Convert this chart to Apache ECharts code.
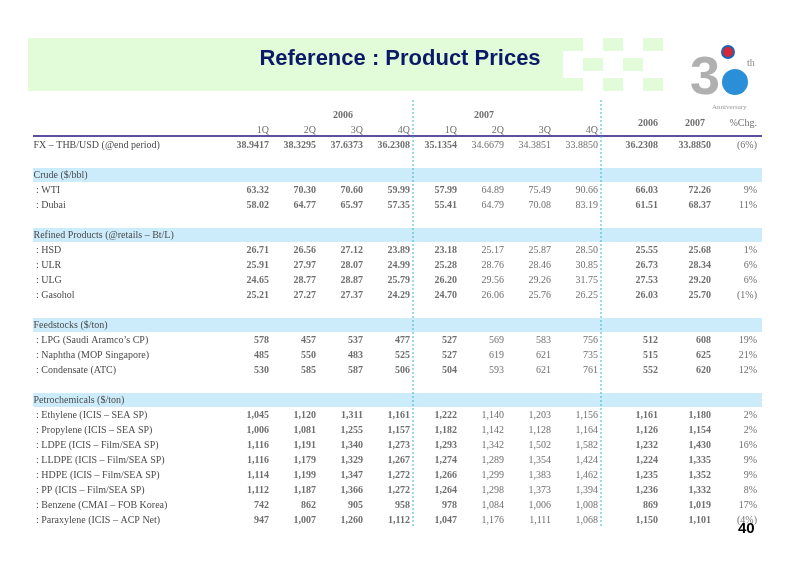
<!DOCTYPE html>
<html><head><meta charset="utf-8">
<script src="https://cdn.jsdelivr.net/npm/echarts@6/dist/echarts.min.js"></script>
<style>html,body{margin:0;padding:0;background:#fff}#c{width:800px;height:566px}</style>
</head><body><div id="c"></div>
<script>
// ---- data ----
const rowNames = ['hdrYear','hdrQ','FX – THB/USD (@end period)','',
 'Crude ($/bbl)',' : WTI',' : Dubai','',
 'Refined Products (@retails – Bt/L)',' : HSD',' : ULR',' : ULG',' : Gasohol','',
 'Feedstocks ($/ton)',' : LPG (Saudi Aramco\u2019s CP)',' : Naphtha (MOP Singapore)',' : Condensate (ATC)','',
 'Petrochemicals ($/ton)',' : Ethylene (ICIS – SEA SP)',' : Propylene (ICIS – SEA SP)',' : LDPE (ICIS – Film/SEA SP)',
 ' : LLDPE (ICIS – Film/SEA SP)',' : HDPE (ICIS – Film/SEA SP)',' : PP (ICIS – Film/SEA SP)',' : Benzene (CMAI – FOB Korea)',' : Paraxylene (ICIS – ACP Net)'];
const sectionRows = ['Crude ($/bbl)','Refined Products (@retails – Bt/L)','Feedstocks ($/ton)','Petrochemicals ($/ton)'];
const columns = ['1Q06','2Q06','3Q06','4Q06','1Q07','2Q07','3Q07','4Q07','Y2006','Y2007','Chg'];
const quarterLabels = ['1Q','2Q','3Q','4Q','1Q','2Q','3Q','4Q'];
const yearLabels = ['2006','2007'];
const fx        = [38.9417,38.3295,37.6373,36.2308,35.1354,34.6679,34.3851,33.8850,36.2308,33.8850,-6];
const wti       = [63.32,70.30,70.60,59.99,57.99,64.89,75.49,90.66,66.03,72.26,9];
const dubai     = [58.02,64.77,65.97,57.35,55.41,64.79,70.08,83.19,61.51,68.37,11];
const hsd       = [26.71,26.56,27.12,23.89,23.18,25.17,25.87,28.50,25.55,25.68,1];
const ulr       = [25.91,27.97,28.07,24.99,25.28,28.76,28.46,30.85,26.73,28.34,6];
const ulg       = [24.65,28.77,28.87,25.79,26.20,29.56,29.26,31.75,27.53,29.20,6];
const gasohol   = [25.21,27.27,27.37,24.29,24.70,26.06,25.76,26.25,26.03,25.70,-1];
const lpg       = [578,457,537,477,527,569,583,756,512,608,19];
const naphtha   = [485,550,483,525,527,619,621,735,515,625,21];
const condensate= [530,585,587,506,504,593,621,761,552,620,12];
const ethylene  = [1045,1120,1311,1161,1222,1140,1203,1156,1161,1180,2];
const propylene = [1006,1081,1255,1157,1182,1142,1128,1164,1126,1154,2];
const ldpe      = [1116,1191,1340,1273,1293,1342,1502,1582,1232,1430,16];
const lldpe     = [1116,1179,1329,1267,1274,1289,1354,1424,1224,1335,9];
const hdpe      = [1114,1199,1347,1272,1266,1299,1383,1462,1235,1352,9];
const pp        = [1112,1187,1366,1272,1264,1298,1373,1394,1236,1332,8];
const benzene   = [742,862,905,958,978,1084,1006,1008,869,1019,17];
const paraxylene= [947,1007,1260,1112,1047,1176,1111,1068,1150,1101,-4];

const tableRows = [
 [2,4,fx],[5,2,wti],[6,2,dubai],[9,2,hsd],[10,2,ulr],[11,2,ulg],[12,2,gasohol],
 [15,0,lpg],[16,0,naphtha],[17,0,condensate],
 [20,0,ethylene],[21,0,propylene],[22,0,ldpe],[23,0,lldpe],[24,0,hdpe],[25,0,pp],[26,0,benzene],[27,0,paraxylene]
];
function fmt(v,d){return d? v.toFixed(d) : v.toLocaleString('en-US');}
function chg(v){return v<0? '('+(-v)+'%)' : v+'%';}

const groups = {bold:[], light:[], ann:[[],[]], chg:[]};
tableRows.forEach(([r,d,vals])=>{
  for(let i=0;i<8;i++){
    const cell=[columns[i],rowNames[r],fmt(vals[i],d)];
    (i<5?groups.bold:groups.light).push(cell);
  }
  groups.ann[0].push([columns[8],rowNames[r],fmt(vals[8],d)]);
  groups.ann[1].push([columns[9],rowNames[r],fmt(vals[9],d)]);
  groups.chg.push([columns[10],rowNames[r],chg(vals[10])]);
});
const qHdr = quarterLabels.map((q,i)=>[columns[i],'hdrQ',q]);
const yHdr = [[columns[1],'hdrYear',yearLabels[0]],[columns[4],'hdrYear',yearLabels[1]]];
const annHdr = [[columns[8],'hdrQ',yearLabels[0]],[columns[9],'hdrQ',yearLabels[1]],[columns[10],'hdrQ','%Chg.']];

const FONT='Liberation Serif';
function textSeries(data,opt){
  return {type:'scatter',xAxisIndex:0,yAxisIndex:0,symbolSize:0,data:data,silent:true,z:5,
    label:Object.assign({show:true,position:'inside',formatter:p=>p.data[2],fontFamily:FONT,fontSize:10,
      color:'#4a4a4a',align:'right'},opt.label||{})};
}

const chart = echarts.init(document.getElementById('c'));
const banner=[];
banner.push({type:'rect',shape:{x:28,y:38,width:535,height:53},style:{fill:'#e2fbd9'},z:0});
[[563,38],[603,38],[583,58],[623,58],[563,78],[603,78],[643,38],[643,78]].forEach(([x,y])=>
  banner.push({type:'rect',shape:{x:x,y:y,width:20,height:13},style:{fill:'#e2fbd9'},z:0}));
chart.setOption({
  animation:false,
  graphic:banner.concat([
    {type:'text',left:'center',top:48,style:{text:'Reference : Product Prices',font:'bold 22px "Liberation Sans"',fill:'#0b1a66'}},
    {type:'text',x:690,y:52,style:{text:'3',font:'bold 54px "Liberation Sans"',fill:'#b0b0b0'}},
    {type:'circle',shape:{cx:735,cy:82,r:13},style:{fill:'#2a8fd8'}},
    {type:'circle',shape:{cx:728,cy:52,r:6},style:{fill:'#d2283a',stroke:'#1a66b0',lineWidth:2}},
    {type:'text',x:747,y:58,style:{text:'th',font:'10px "Liberation Serif"',fill:'#888'}},
    {type:'text',x:712,y:104,style:{text:'Anniversary',font:'7px "Liberation Serif"',fill:'#999'}},
    {type:'line',shape:{x1:33,y1:136,x2:762,y2:136},style:{stroke:'#5a4fa0',lineWidth:2},z:6},
    {type:'line',shape:{x1:413,y1:100,x2:413,y2:527},style:{stroke:'#39b9c0',lineWidth:1,lineDash:[2,2]},z:6},
    {type:'line',shape:{x1:601,y1:100,x2:601,y2:527},style:{stroke:'#39b9c0',lineWidth:1,lineDash:[2,2]},z:6},
    {type:'text',x:738,y:521,style:{text:'40',font:'bold 15px "Liberation Sans"',fill:'#000'},z:6}
  ]),
  grid:[{left:245.5,width:517,top:107.5,height:420},{left:33,right:38,top:107.5,height:420}],
  xAxis:[{type:'category',data:columns,gridIndex:0,show:false},
         {type:'value',gridIndex:1,min:0,max:1,show:false}],
  yAxis:[{type:'category',data:rowNames,gridIndex:0,inverse:true,z:10,axisLine:{show:false},axisTick:{show:false},
          axisLabel:{align:'left',margin:212,fontFamily:FONT,fontSize:10,color:'#4a4a4a',interval:0,
            formatter:v=>(v.startsWith('hdr')?'':v)}},
         {type:'category',data:rowNames,gridIndex:1,inverse:true,show:false}],
  series:[
    {type:'bar',xAxisIndex:1,yAxisIndex:1,barWidth:14,silent:true,z:-1,itemStyle:{color:'#ccecfb'},
     data:rowNames.map(r=>sectionRows.includes(r)?1:'-')},
    textSeries(groups.bold,{label:{fontWeight:'bold'}}),
    textSeries(groups.light,{}),
    textSeries(groups.ann[0],{label:{fontWeight:'bold',offset:[13,0]}}),
    textSeries(groups.ann[1],{label:{fontWeight:'bold',offset:[19,0]}}),
    textSeries(groups.chg,{label:{offset:[18,0]}}),
    textSeries(qHdr,{}),
    textSeries(yHdr,{label:{fontWeight:'bold',align:'center',offset:[27,0]}}),
    textSeries(annHdr.slice(0,2),{label:{fontWeight:'bold',offset:[13,-7]}}),
    textSeries(annHdr.slice(2),{label:{offset:[18,-7]}})
  ]
});
</script></body></html>
